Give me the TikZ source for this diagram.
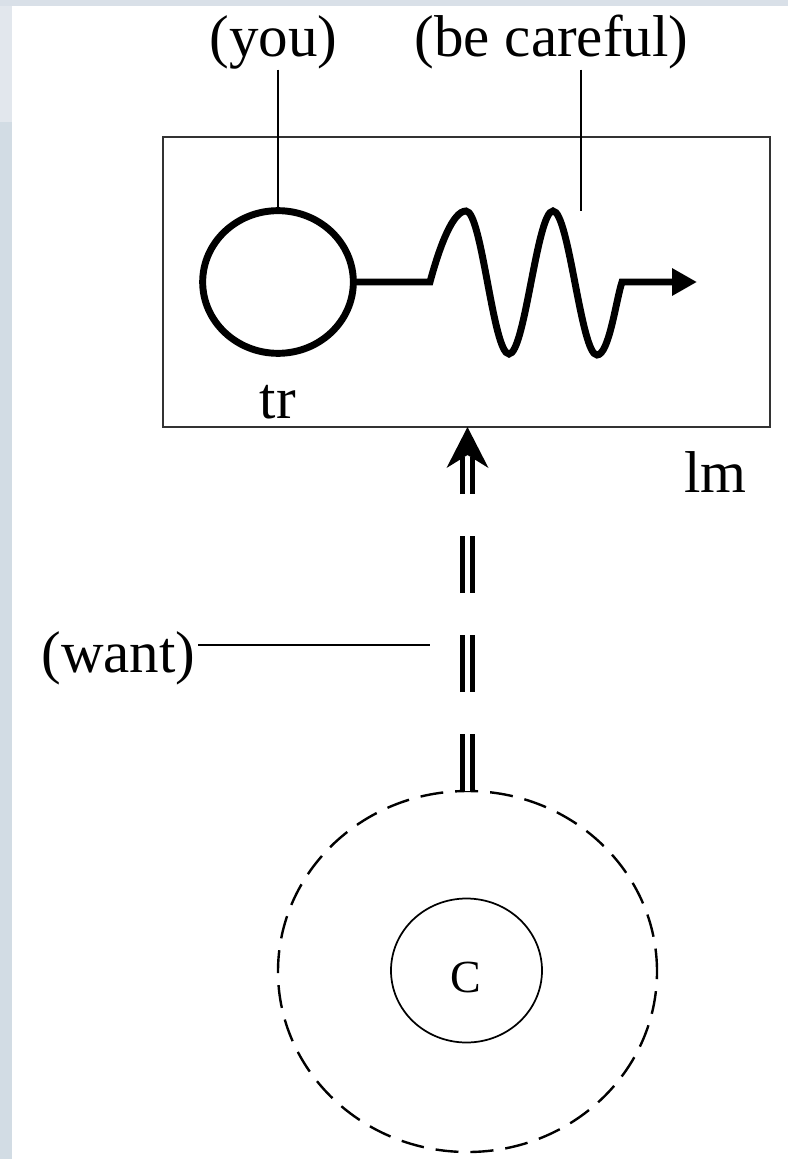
\documentclass[tikz,border=0pt]{standalone}
\usepackage{fontspec}
\setmainfont{Liberation Serif}
\usetikzlibrary{shapes.geometric,arrows.meta}
\definecolor{bandtop}{HTML}{D9E0E8}
\definecolor{bandA}{HTML}{E2E7ED}
\definecolor{bandB}{HTML}{D2DCE4}
\definecolor{boxline}{HTML}{333333}
\tikzset{
  lbl/.style={inner sep=0pt, outer sep=0pt, font=\fontsize{44.25}{50}\selectfont},
  smalllbl/.style={inner sep=0pt, outer sep=0pt, font=\fontsize{34.5}{40}\selectfont},
  pointer/.style={draw=black, line width=1.1pt},
  framebox/.style={draw=boxline, line width=1.5pt, rectangle, inner sep=0pt, outer sep=0pt},
  thickstroke/.style={draw=black, line width=5.2pt},
  dblstroke/.style={draw=black, line width=3.75pt, double=white, double distance=3.75pt,
     dash pattern=on 42.75pt off 31.5pt},
  outerring/.style={draw=black, ellipse, line width=1.8pt, dash pattern=on 17.25pt off 9pt, inner sep=0pt, outer sep=0pt},
  innerring/.style={draw=black, ellipse, line width=1.3pt, inner sep=0pt, outer sep=0pt},
}
\begin{document}
\begin{tikzpicture}[x=0.75pt,y=-0.75pt]
\useasboundingbox (0,0) rectangle (788,1159);
% background bands
\fill[bandtop] (0,0) rectangle (788,6);
\fill[bandA] (0,6) rectangle (12,122);
\fill[bandB] (0,122) rectangle (12,1159);

% frame
\node[framebox, minimum width=455.25pt, minimum height=217.5pt] (box) at (466.5,282) {};

% trajector circle
\node[thickstroke, ellipse, inner sep=0pt, outer sep=0pt, minimum width=113pt, minimum height=107pt] (trc) at (278,282) {};

% labels
\node[lbl, anchor=base] (you) at (273.5,57) {(you)};
\node[lbl, anchor=base] (care) at (551.5,57) {(be careful)};
\node[lbl, anchor=base] (want) at (118.5,672) {(want)};
\node[lbl, anchor=base] (tr) at (278,418) {tr};
\node[lbl, anchor=base] (lm) at (715.5,492) {lm};

% wave
\coordinate (w0) at (430,282);
\coordinate (careEnd) at (581,211);
\draw[thickstroke, -{Triangle[length=18.75pt,width=19.5pt]}]
  (trc.east) -- (w0)
  .. controls (440,245) and (453,211) .. (466,211)
  .. controls (482,211) and (493,354) .. (509,354)
  .. controls (525,354) and (537,211) .. (553,211)
  .. controls (569,211) and (581,355) .. (597,355)
  .. controls (609,355) and (616,300) .. (622,282)
  -- (697,282);

% pointer lines
\draw[pointer] (trc.north |- you.south) -- (trc.north);
\draw[pointer] (care.south -| careEnd) -- (careEnd);
\coordinate (wantEnd) at (430,645);
\draw[pointer] ([xshift=2.25pt]want.east |- wantEnd) -- (wantEnd);

% conceptualizer rings
\node[outerring, minimum width=284.25pt, minimum height=270.75pt] (outer) at (467.5,971.5) {};
\node[innerring, minimum width=113.25pt, minimum height=108pt] (inner) at (466.5,970.5) {};
\node[smalllbl, anchor=base] (C) at (466,992) {C};

% double dashed arrow
\coordinate (tipA) at (outer.north |- box.south);
\draw[dblstroke] (outer.north) -- ([yshift=-22.5pt]tipA);
\fill[black] (tipA) -- ++(-21,41) -- ++(21,-13) -- ++(21,13) -- cycle;
\end{tikzpicture}
\end{document}
